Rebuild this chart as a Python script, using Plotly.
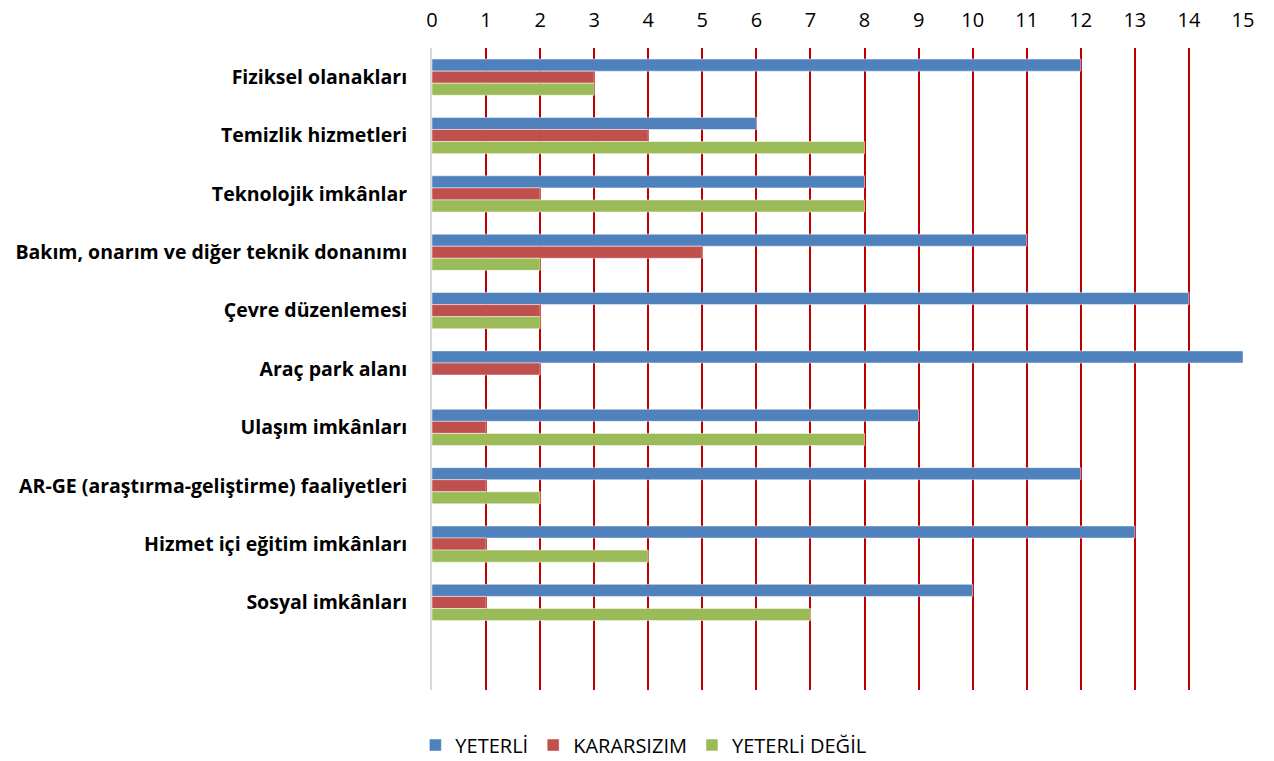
import plotly.graph_objects as go

categories = ["Fiziksel olanakları", "Temizlik hizmetleri", "Teknolojik imkânlar",
              "Bakım, onarım ve diğer teknik donanımı", "Çevre düzenlemesi",
              "Araç park alanı", "Ulaşım imkânları",
              "AR-GE (araştırma-geliştirme) faaliyetleri",
              "Hizmet içi eğitim imkânları", "Sosyal imkânları"]
yeterli = [12, 6, 8, 11, 14, 15, 9, 12, 13, 10]
kararsizim = [3, 4, 2, 5, 2, 2, 1, 1, 1, 1]
yeterli_degil = [3, 8, 8, 2, 2, 0, 8, 2, 4, 7]
series_names = ["YETERLİ", "KARARSIZIM", "YETERLİ DEĞİL"]
colors = ["#4F81BD", "#C0504D", "#9BBB59"]

fig = go.Figure()
for name, vals, col in zip(series_names, [yeterli, kararsizim, yeterli_degil], colors):
    fig.add_trace(go.Bar(
        y=categories, x=vals, name=name, orientation="h",
        marker=dict(color=col, line=dict(color="rgba(255,255,255,0.6)", width=0.8)),
    ))

fig.update_layout(
    width=1274, height=761,
    margin=dict(l=432, r=31, t=48, b=71, autoexpand=False),
    paper_bgcolor="white", plot_bgcolor="white",
    barmode="group", bargap=0.38, bargroupgap=0,
    font=dict(family="Open Sans, Liberation Sans, sans-serif", color="#000000"),
    xaxis=dict(
        side="top", range=[0, 15], dtick=1, tick0=0,
        showgrid=True, gridcolor="#C00000", gridwidth=2,
        zeroline=False, showline=False, ticks="", automargin=False,
        ticklabelstandoff=16,
        tickfont=dict(size=20, family="Open Sans, sans-serif"),
    ),
    yaxis=dict(
        autorange=False, range=[10.5, -0.5], automargin=False,
        showgrid=False, zeroline=False,
        showline=True, linecolor="#D9D9D9", linewidth=2,
        ticks="", ticklabelstandoff=19,
        tickfont=dict(size=19.5, family="Open Sans, sans-serif", weight="bold"),
    ),
    legend=dict(
        orientation="h", xref="container", x=0.505, xanchor="center",
        yref="container", y=0.021, yanchor="middle",
        font=dict(size=20, family="Open Sans, sans-serif"),
        traceorder="normal", itemwidth=30,
    ),
)

# remove the default page margin so the figure fills the window exactly
fig.write_html("out.html",
               config={"displayModeBar": False},
               post_script="document.body.style.margin='0';document.body.style.overflow='hidden';")
